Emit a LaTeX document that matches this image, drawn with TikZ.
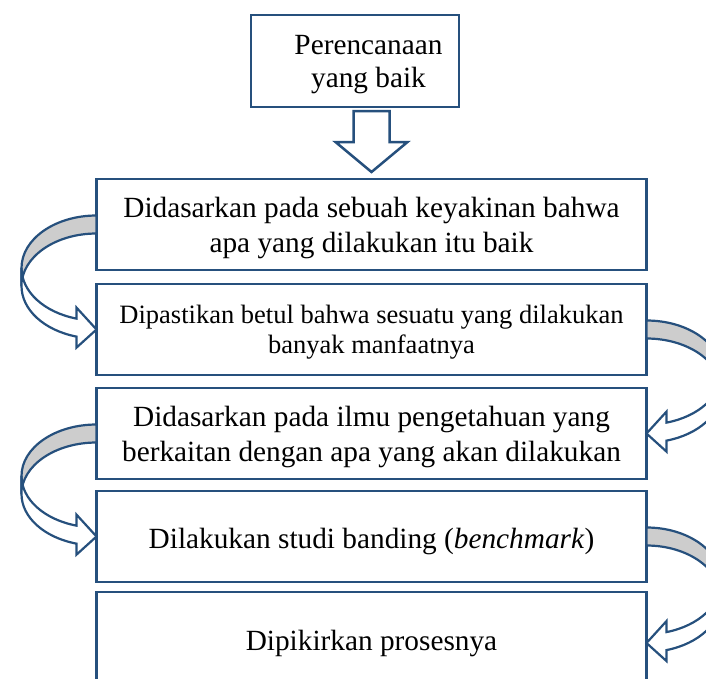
\documentclass[tikz,border=0pt]{standalone}
\usepackage{fontspec}
\setmainfont{Liberation Serif}
\usetikzlibrary{positioning, calc}

\definecolor{boxblue}{RGB}{38,80,125}
\definecolor{backgray}{RGB}{205,205,205}

% centred lines, lowered a little inside the box
\newcommand{\boxlines}[3][@{}c@{}]{\raisebox{-#2}[\height][\depth]{\begin{tabular}{#1}#3\end{tabular}}}

\newdimen\tailY
\newdimen\tipY
% curved ribbon arrow: from node, to node, side anchor, mirror (1 = left side, -1 = right side)
\newcommand{\curvarrow}[4]{%
  \pgfextracty{\tailY}{\pgfpointanchor{#1}{#3}}%
  \pgfextracty{\tipY}{\pgfpointanchor{#2}{#3}}%
  \pgfmathsetmacro{\ch}{\tailY-\tipY+29}%
  \pgfmathsetmacro{\hR}{\ch/2-14.5}%
  \pgfmathsetmacro{\yf}{\hR+\hR*sin(105.47)}%
  \begin{scope}[shift={($(#1.#3)+(0,-9)$)}, xscale=#4]
    \draw[curvback] (0,0) arc[start angle=270, end angle=180, x radius=75, y radius=\hR]
      -- ++(0,18) arc[start angle=180, end angle=270, x radius=75, y radius=\hR] -- cycle;
    \draw[curvfront] (-75,\hR) arc[start angle=180, end angle=105.47, x radius=75, y radius=\hR]
      -- (-20,\yf-11) -- (0,\ch-20) -- (-20,\yf+29) -- (-20,\yf+18)
      arc[start angle=105.47, end angle=180, x radius=75, y radius=\hR] -- cycle;
  \end{scope}}

\begin{document}
\begin{tikzpicture}[
    x=1pt, y=-1pt,
    every node/.style={font=\fontsize{29.3}{35}\selectfont},
    box/.style={draw=boxblue, line width=2.5pt, fill=white,
        inner sep=0pt, outer sep=0pt, minimum width=550pt, minimum height=91pt},
    curvback/.style={draw=boxblue, line width=2.2pt, fill=backgray},
    curvfront/.style={draw=boxblue, line width=2.2pt, fill=white},
    blkarrow/.style={draw=boxblue, line width=2.5pt, fill=white}
]
\useasboundingbox (0,0) rectangle (706,678);

% Top box
\node[box, minimum width=208pt, minimum height=92pt, font=\fontsize{29.3}{33}\selectfont] (plan) at (355,61)
    {\boxlines[@{\hspace{27pt}}c@{}]{3.5pt}{Perencanaan\\yang baik}};

% Steps
\node[box] (b2) at (371.5,224.5)
    {\boxlines{3.5pt}{Didasarkan pada sebuah keyakinan bahwa\\apa yang dilakukan itu baik}};
\node[box, below=14pt of b2, font=\fontsize{26.5}{30}\selectfont] (b3)
    {\boxlines{2.5pt}{Dipastikan betul bahwa sesuatu yang dilakukan\\banyak manfaatnya}};
\node[box, below=13pt of b3] (b4)
    {\boxlines{3pt}{Didasarkan pada ilmu pengetahuan yang\\berkaitan dengan apa yang akan dilakukan}};
\node[box, below=12pt of b4] (b5) {\boxlines{4.5pt}{Dilakukan studi banding (\textit{benchmark})}};
\node[box, below=10pt of b5, minimum height=102pt] (b6) {\boxlines{0pt}{Dipikirkan prosesnya}};

% Down arrow
\coordinate (darr) at ($(b2.north)+(0,-68)$);
\draw[blkarrow] ($(darr)+(-18,0)$) -- ++(36,0) -- ++(0,31) -- ++(18,0)
    -- ++(-36,30) -- ++(-36,-30) -- ++(18,0) -- cycle;

% Curved arrows
\curvarrow{b2}{b3}{west}{1}
\curvarrow{b3}{b4}{east}{-1}
\curvarrow{b4}{b5}{west}{1}
\curvarrow{b5}{b6}{east}{-1}

\end{tikzpicture}
\end{document}
